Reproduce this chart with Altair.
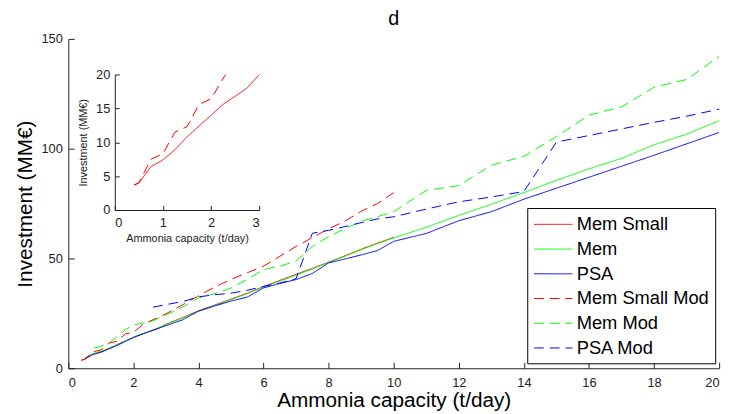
import altair as alt
import pandas as pd

# ---------------- data ----------------
names = ["Mem Small", "Mem", "PSA", "Mem Small Mod", "Mem Mod", "PSA Mod"]
colors = ["#ff0000", "#00ff00", "#0000ff", "#ff0000", "#00ff00", "#0000ff"]
dashes = [[1, 0], [1, 0], [1, 0], [10, 6], [10, 6], [10, 6]]

mem_small_x = [0.4, 0.5, 0.75, 1, 1.25, 1.5, 1.75, 2, 2.25, 2.5, 2.75, 3, 3.5, 4, 4.5, 5,
               5.5, 6, 6.5, 7, 7.5, 8, 8.5, 9, 9.5, 10]
mem_small_y = [3.7, 4.0, 6.4, 7.4, 8.9, 10.8, 12.4, 14.0, 15.6, 16.8, 18.0, 20.0, 23.0, 26.2,
               28.8, 31.5, 34.2, 37.2, 40.0, 42.8, 45.5, 48.3, 51.2, 54.2, 57.0, 59.6]

mem_x = [0.5, 0.75, 1, 1.5, 2, 2.5, 3, 3.5, 4, 4.5, 5, 5.5, 6, 6.5, 7, 7.5, 8, 8.5, 9, 9.5,
         10, 11, 12, 13, 14, 15, 16, 17, 18, 19, 20]
mem_y = [4.6, 6.6, 7.8, 10.6, 14.2, 16.8, 20.0, 22.8, 26.0, 28.6, 31.2, 34.0, 37.0, 39.6,
         42.4, 45.2, 48.2, 51.0, 54.0, 56.8, 59.4, 64.2, 69.6, 74.7, 80.0, 85.6, 90.8,
         95.6, 101.8, 106.6, 112.8]

psa_x = [0.5, 0.75, 1, 1.5, 2, 2.5, 3, 3.5, 4, 4.5, 5, 5.5, 6, 6.5, 7, 7.5, 8, 8.5, 9, 9.5,
         10, 11, 12, 13, 14, 15, 16, 17, 18, 19, 20]
psa_y = [4.3, 6.2, 7.3, 10.4, 14.0, 16.8, 19.4, 22.0, 26.0, 28.4, 30.6, 32.4, 36.6, 38.6,
         40.4, 43.2, 48.0, 49.8, 51.6, 53.6, 57.8, 61.4, 67.2, 71.3, 77.0, 82.0, 87.0,
         92.0, 97.0, 102.2, 107.4]

mem_small_mod_x = [0.4, 0.5, 0.75, 1, 1.25, 1.5, 1.75, 2, 2.3, 3, 3.5, 4, 4.5, 5, 5.5, 6,
                   6.5, 7, 7.5, 8, 8.5, 9, 9.5, 10]
mem_small_mod_y = [3.7, 4.0, 7.5, 8.3, 11.5, 12.3, 15.6, 16.4, 20.0, 24.8, 28.8, 33.0, 37.0,
                   40.5, 43.5, 46.5, 51.0, 55.5, 59.5, 63.5, 67.0, 71.5, 75.0, 80.0]

mem_mod_x = [0.8, 1, 1.25, 1.5, 1.75, 2, 2.5, 3, 3.5, 4, 4.5, 5, 5.5, 6, 6.5, 7, 7.5, 8, 8.5,
             9, 9.5, 10, 11, 12, 13, 14, 15, 16, 17, 18, 19, 20]
mem_mod_y = [9.2, 10.0, 11.5, 14.5, 17.5, 19.8, 21.0, 24.2, 27.8, 32.0, 34.0, 36.5, 40.5,
             45.0, 46.5, 48.8, 55.5, 60.0, 63.5, 67.0, 69.0, 71.3, 81.0, 83.2, 92.5, 96.5,
             105.5, 115.3, 119.0, 128.0, 131.5, 142.0]

psa_mod_x = [2.6, 3, 3.5, 4, 4.5, 5, 5.5, 6, 6.5, 7, 7.5, 8, 8.5, 9, 9.5, 10, 11, 12, 13, 14,
             15, 16, 17, 18, 19, 20]
psa_mod_y = [27.8, 29.0, 30.3, 32.5, 33.5, 34.2, 35.5, 37.3, 38.8, 40.8, 61.5, 62.8, 64.5,
             66.3, 68.0, 69.0, 72.5, 75.8, 78.0, 80.5, 103.0, 106.0, 109.0, 112.0, 114.8, 118.0]

x_ticks = list(range(0, 21, 2))
y_ticks = [0, 50, 100, 150]
inset_x_ticks = [0, 1, 2, 3]
inset_y_ticks = [0, 5, 10, 15, 20]
inset_series = ["Mem Small", "Mem Small Mod"]

series_xy = [
    (mem_small_x, mem_small_y),
    (mem_x, mem_y),
    (psa_x, psa_y),
    (mem_small_mod_x, mem_small_mod_y),
    (mem_mod_x, mem_mod_y),
    (psa_mod_x, psa_mod_y),
]

rows = []
for name, (xs, ys) in zip(names, series_xy):
    for xv, yv in zip(xs, ys):
        rows.append({"series": name, "x": xv, "y": yv})
df = pd.DataFrame(rows)
df_inset = df[df["series"].isin(inset_series) & (df["x"] <= 3) & (df["y"] <= 20)]

# ---------------- layout ----------------
W, H = 658, 333
IX0, IX1 = 47, 193      # inset x range inside the plot area
IY0, IY1 = 173, 36      # inset y range inside the plot area
FONT = "Liberation Sans"
AX = "#222222"

color_scale = alt.Scale(domain=names, range=colors)
dash_scale = alt.Scale(domain=names, range=dashes)

# a wide horizontal stroke symbol: 4 half-widths long, starting at the symbol's left edge
leg = alt.Legend(
    orient="none", legendX=464, legendY=171, title=None,
    symbolType="M-1,0L3,0", symbolSize=380, symbolStrokeWidth=1,
    labelFontSize=18.5, labelFont=FONT, labelColor="black", labelLimit=400,
    labelOffset=23, padding=6, rowPadding=5,
    strokeColor="black", fillColor="white",
)

main = alt.Chart(df).mark_line(strokeWidth=1).encode(
    x=alt.X("x:Q", scale=alt.Scale(domain=[0, 20], nice=False, zero=False),
            axis=alt.Axis(values=x_ticks, ticks=False, grid=False, domainColor=AX,
                          labelColor=AX, labelFontSize=13, labelPadding=8,
                          title="Ammonia capacity (t/day)", titleFontSize=21,
                          titleFontWeight="normal", titleColor="black", titlePadding=1)),
    y=alt.Y("y:Q", scale=alt.Scale(domain=[0, 150], nice=False, zero=False),
            axis=alt.Axis(values=y_ticks, ticks=False, grid=False, domainColor=AX,
                          labelColor=AX, labelFontSize=13, labelPadding=6,
                          title="Investment (MM€)", titleFontSize=21,
                          titleFontWeight="normal", titleColor="black", titlePadding=6)),
    color=alt.Color("series:N", scale=color_scale, legend=leg),
    strokeDash=alt.StrokeDash("series:N", scale=dash_scale, legend=leg),
    detail="series:N",
)

main_ticks = alt.Chart(df).mark_line(opacity=0).encode(
    x=alt.X("x:Q", scale=alt.Scale(domain=[0, 20], nice=False, zero=False),
            axis=alt.Axis(orient="top", offset=-H, values=x_ticks, labels=False,
                          domain=False, grid=False, tickSize=6, tickColor=AX, title=None)),
    y=alt.Y("y:Q", scale=alt.Scale(domain=[0, 150], nice=False, zero=False),
            axis=alt.Axis(orient="right", offset=-W, values=y_ticks, labels=False,
                          domain=False, grid=False, tickSize=6, tickColor=AX, title=None)),
    detail="series:N",
)

inset = alt.Chart(df_inset).mark_line(strokeWidth=1).encode(
    x=alt.X("x:Q", scale=alt.Scale(domain=[0, 3], range=[IX0, IX1], nice=False, zero=False),
            axis=alt.Axis(orient="bottom", offset=-(H - IY0), values=inset_x_ticks,
                          ticks=False, grid=False, domainColor=AX, labelColor=AX,
                          labelFontSize=13, labelPadding=7,
                          title="Ammonia capacity (t/day)", titleFontSize=11,
                          titleFontWeight="normal", titleColor=AX, titlePadding=3)),
    y=alt.Y("y:Q", scale=alt.Scale(domain=[0, 20], range=[IY0, IY1], nice=False, zero=False),
            axis=alt.Axis(orient="left", offset=-IX0, values=inset_y_ticks,
                          ticks=False, grid=False, domainColor=AX, labelColor=AX,
                          labelFontSize=13, labelPadding=5,
                          title="Investment (MM€)", titleFontSize=11,
                          titleFontWeight="normal", titleColor=AX, titlePadding=7)),
    color=alt.Color("series:N", scale=color_scale, legend=None),
    strokeDash=alt.StrokeDash("series:N", scale=dash_scale, legend=None),
    detail="series:N",
)

inset_ticks = alt.Chart(df_inset).mark_line(opacity=0).encode(
    x=alt.X("x:Q", scale=alt.Scale(domain=[0, 3], range=[IX0, IX1], nice=False, zero=False),
            axis=alt.Axis(orient="top", offset=-IY0, values=inset_x_ticks, labels=False,
                          domain=False, grid=False, tickSize=4.5, tickColor=AX, title=None)),
    y=alt.Y("y:Q", scale=alt.Scale(domain=[0, 20], range=[IY0, IY1], nice=False, zero=False),
            axis=alt.Axis(orient="right", offset=-(W - IX0), values=inset_y_ticks,
                          labels=False, domain=False, grid=False, tickSize=4.5,
                          tickColor=AX, title=None)),
    detail="series:N",
)

chart = alt.layer(main, main_ticks, inset, inset_ticks).resolve_scale(
    x="independent", y="independent", color="independent", strokeDash="independent"
).properties(
    width=W, height=H,
    title=alt.TitleParams("d", fontSize=20, font=FONT, fontWeight="normal",
                          anchor="middle", frame="group", offset=4, color="black"),
    autosize=alt.AutoSizeParams(type="none"),
    padding={"left": 61, "top": 29, "right": 11, "bottom": 44},
).configure(font=FONT).configure_view(stroke=None)

chart.save("out.html", embed_options={"renderer": "svg", "actions": False})
